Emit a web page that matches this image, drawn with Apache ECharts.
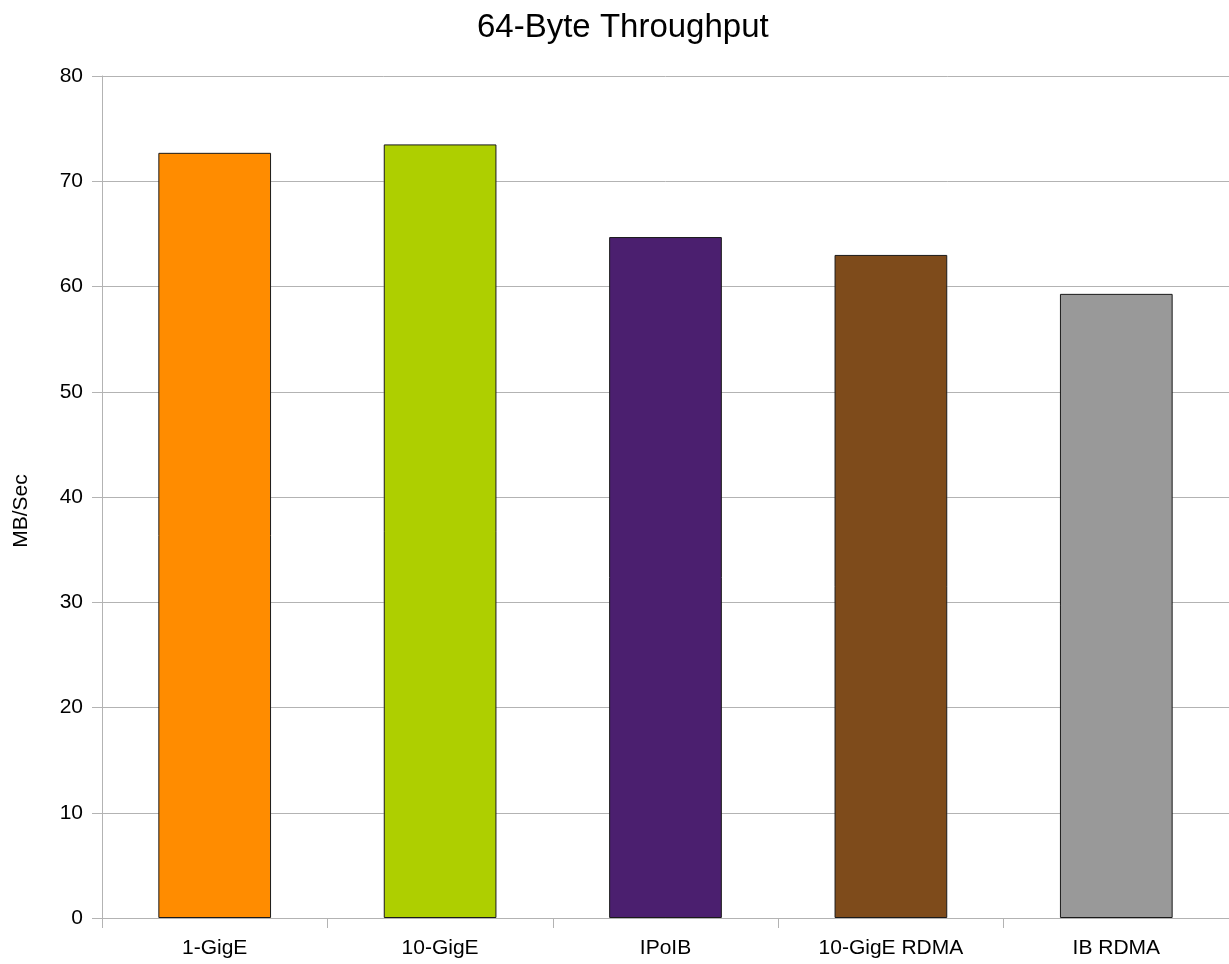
<!DOCTYPE html>
<html>
<head>
<meta charset="utf-8">
<style>
  html, body { margin: 0; padding: 0; background: #ffffff; }
  #chart { width: 1229px; height: 964px; }
</style>
<script src="https://cdn.jsdelivr.net/npm/echarts@6/dist/echarts.min.js"></script>
</head>
<body>
<div id="chart"></div>
<script>
// Interconnect labels along the category axis
const categories = ['1-GigE', '10-GigE', 'IPoIB', '10-GigE RDMA', 'IB RDMA'];
// Measured 64-byte throughput, MB/Sec
const throughput = [72.7, 73.5, 64.7, 63.0, 59.3];
// Fill colour per interconnect
const barColors = ['#ff8c00', '#aecf00', '#4b1f6f', '#7e4b1b', '#999999'];

const chart = echarts.init(document.getElementById('chart'), null, { renderer: 'canvas' });

const font = 'Liberation Sans, Arial, sans-serif';
const gray = '#b3b3b3';

chart.setOption({
  animation: false,
  backgroundColor: '#ffffff',
  title: {
    text: '64-Byte Throughput',
    left: 472,
    top: 6,
    textStyle: { fontFamily: font, fontSize: 33, fontWeight: 'normal', color: '#000000' }
  },
  // plot area runs slightly past the right edge of the canvas
  grid: { left: 102, right: -3, top: 76, bottom: 46, containLabel: false },
  xAxis: {
    type: 'category',
    data: categories,
    boundaryGap: true,
    axisLine: { show: true, lineStyle: { color: gray, width: 1 } },
    axisTick: { show: true, length: 10, alignWithLabel: false, lineStyle: { color: gray } },
    axisLabel: { fontFamily: font, fontSize: 21, color: '#000000', margin: 20 },
    splitLine: { show: false }
  },
  yAxis: {
    type: 'value',
    min: 0,
    max: 80,
    interval: 10,
    axisLine: { show: true, lineStyle: { color: gray, width: 1 } },
    axisTick: { show: true, length: 10, lineStyle: { color: gray } },
    axisLabel: { fontFamily: font, fontSize: 21, color: '#000000', margin: 19 },
    splitLine: { show: true, lineStyle: { color: gray, width: 1 } }
  },
  // Value-axis title, rotated and placed left of the tick labels
  graphic: [{
    type: 'text',
    x: 21,
    y: 511,
    rotation: Math.PI / 2,
    style: {
      text: 'MB/Sec',
      font: '21px Liberation Sans, Arial, sans-serif',
      fill: '#000000',
      align: 'center',
      verticalAlign: 'middle'
    }
  }],
  series: [{
    type: 'bar',
    data: throughput.map((v, i) => ({
      value: v,
      itemStyle: { color: barColors[i] }
    })),
    barWidth: '50%',
    itemStyle: { borderColor: '#1a1a1a', borderWidth: 1 }
  }]
});
</script>
</body>
</html>
